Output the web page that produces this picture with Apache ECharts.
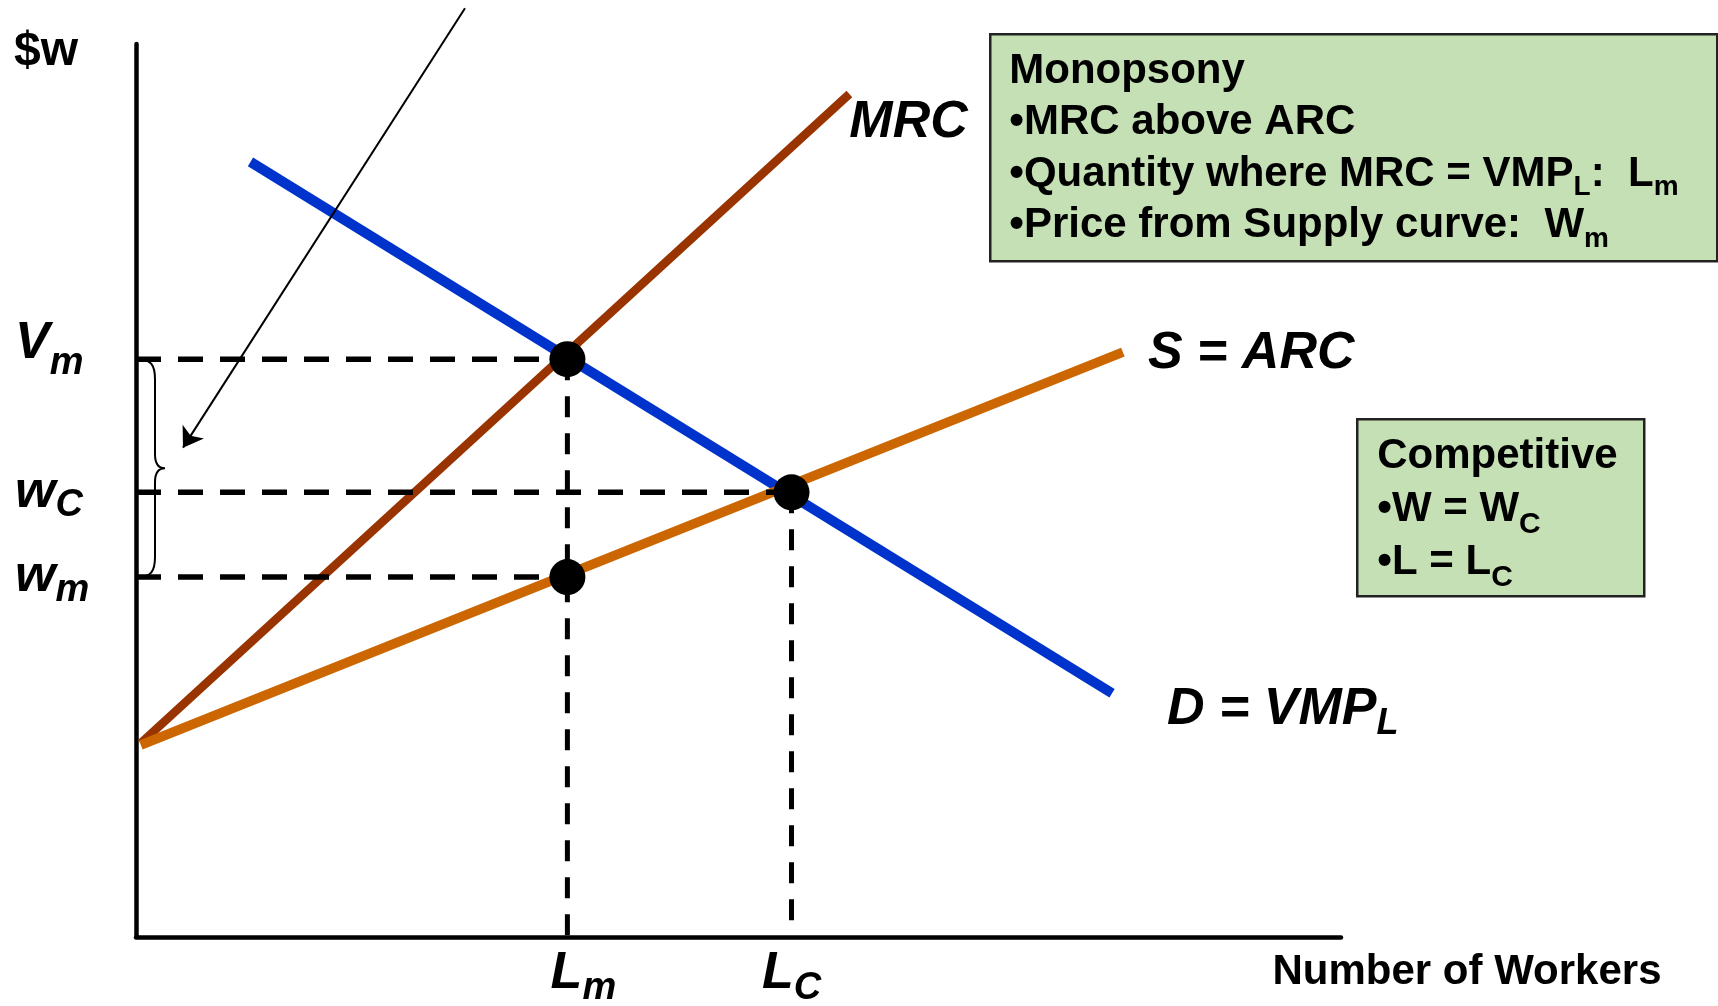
<!DOCTYPE html>
<html>
<head>
<meta charset="utf-8">
<title>Monopsony labor market</title>
<script src="https://cdn.jsdelivr.net/npm/echarts@6/dist/echarts.min.js"></script>
<style>
  html, body { margin: 0; padding: 0; background: #fff; }
  #chart { width: 1718px; height: 1006px; }
</style>
</head>
<body>
<div id="chart"></div>
<script>
// Curves of the labor market (x = number of workers, y = wage)
const demandPts = [[9.5, 86.8], [81.0, 27.3]];   // D = VMP_L
const mrcPts    = [[0.4, 21.7], [59.2, 94.4]];   // MRC
const supplyPts = [[0.4, 21.5], [81.9, 65.5]];   // S = ARC

// Quantities on the x axis: L_m, L_C
const qtyValues = [35.8, 54.4];
const qtyNames  = ['L', 'L'];
const qtySubs   = ['m', 'C'];

// Wages on the y axis: w_m, w_C, V_m
const wageValues = [40.3, 49.8, 64.7];
const wageNames  = ['w', 'w', 'V'];
const wageSubs   = ['m', 'C', 'm'];

// Pointer arrow towards the wage gap brace
const arrowPts = [[27.3, 104.0], [3.9, 54.8]];

const FONT = '"Liberation Sans", Arial, Helvetica, sans-serif';
const [Lm, Lc] = qtyValues;
const [wm, wC, Vm] = wageValues;

const BLUE = '#0033CC', BROWN = '#993300', ORANGE = '#CC6600', BOX = '#C5E0B4';

function italicBold(size, extra) {
  return Object.assign({ fontSize: size, fontWeight: 'bold', fontStyle: 'italic',
    fontFamily: FONT, color: '#000' }, extra || {});
}

// dashed guides from the equilibrium points to the axes
const guidesH = [
  [[0, Vm], [Lm, Vm]],
  [[0, wC], [Lc, wC]],
  [[0, wm], [Lm, wm]]
];
const guidesV = [
  [[Lm, Vm], [Lm, 0]],
  [[Lc, wC], [Lc, 0]]
];
const dots = [[Lm, Vm], [Lc, wC], [Lm, wm]];

function curve(name, pts, color, width, label) {
  return {
    type: 'line', name, data: pts, symbol: 'none', showSymbol: false, z: 2,
    lineStyle: { color, width, cap: 'butt', opacity: 1 },
    endLabel: label
  };
}

const series = [
  curve('VMP', demandPts, BLUE, 10, {
    show: true, formatter: '{a|D = VMP}{b|L}', offset: [47, 16],
    rich: { a: italicBold(52, { lineHeight: 60 }), b: italicBold(36, { height: 30, verticalAlign: 'bottom' }) }
  }),
  curve('MRC', mrcPts, BROWN, 8.5, Object.assign(italicBold(52), {
    show: true, formatter: 'MRC', offset: [-8, 29]
  })),
  curve('ARC', supplyPts, ORANGE, 9.5, Object.assign(italicBold(52), {
    show: true, formatter: 'S = ARC', offset: [17, 2]
  }))
];

guidesH.forEach(seg => series.push({
  type: 'line', data: seg, symbol: 'none', z: 3, silent: true,
  lineStyle: { color: '#000', width: 5.5, type: [25, 17], opacity: 1 }
}));
guidesV.forEach(seg => series.push({
  type: 'line', data: seg, symbol: 'none', z: 3, silent: true,
  lineStyle: { color: '#000', width: 5, type: [21, 16], opacity: 1 }
}));

series.push({
  type: 'scatter', data: dots, symbol: 'circle', symbolSize: 36, z: 5,
  itemStyle: { color: '#000', opacity: 1 }
});

// curly brace spanning the gap between V_m and w_m
series.push({
  type: 'custom', coordinateSystem: 'cartesian2d', clip: false, z: 4, silent: true,
  data: [[0, wm, Vm]],
  renderItem(params, api) {
    const top = api.coord([api.value(0), api.value(2)]);
    const bot = api.coord([api.value(0), api.value(1)]);
    const x = top[0], yT = top[1], yB = bot[1], yM = (yT + yB) / 2;
    const d = `M${x + 2} ${yT} C${x + 15} ${yT} ${x + 19} ${yT + 6} ${x + 19} ${yT + 20} ` +
      `L${x + 19} ${yM - 14} C${x + 19} ${yM - 4} ${x + 23} ${yM} ${x + 29} ${yM} ` +
      `C${x + 23} ${yM} ${x + 19} ${yM + 4} ${x + 19} ${yM + 14} ` +
      `L${x + 19} ${yB - 20} C${x + 19} ${yB - 6} ${x + 15} ${yB} ${x + 2} ${yB}`;
    return { type: 'path', shape: { pathData: d }, style: { fill: 'none', stroke: '#000', lineWidth: 2 } };
  }
});

// thin pointer arrow
series.push({
  type: 'lines', coordinateSystem: 'cartesian2d', clip: false, z: 4, silent: true,
  symbol: ['none', 'arrow'], symbolSize: 19,
  lineStyle: { color: '#000', width: 2, opacity: 1, curveness: 0 },
  data: [{ coords: arrowPts }]
});

const textBold = { fontWeight: 'bold', fontFamily: FONT, fill: '#000' };

const option = {
  animation: false,
  backgroundColor: '#fff',
  grid: { left: 136, right: 377, top: 44, bottom: 69, containLabel: false, outerBoundsMode: 'none' },
  xAxis: {
    type: 'value', min: 0, max: 100,
    axisLine: { show: true, onZero: false, lineStyle: { color: '#000', width: 4.5 } },
    axisTick: { show: false }, splitLine: { show: false },
    axisLabel: {
      customValues: qtyValues, margin: 9, color: '#000',
      formatter: v => {
        const i = qtyValues.indexOf(v);
        if (i < 0) return '';
        return `{${i === 0 ? 'Lp' : 'L'}|${qtyNames[i]}}{s|${qtySubs[i]}}`;
      },
      rich: {
        L: italicBold(52, { lineHeight: 56 }),
        Lp: italicBold(52, { lineHeight: 56, padding: [0, 0, 0, 32] }),
        s: italicBold(38, { height: 26, verticalAlign: 'bottom' })
      }
    },
    name: 'Number of Workers', nameLocation: 'end', nameGap: 126,
    nameTextStyle: { fontSize: 42, fontWeight: 'bold', fontFamily: FONT, color: '#000',
      align: 'center', verticalAlign: 'top', padding: [14, 0, 0, 0] }
  },
  yAxis: {
    type: 'value', min: 0, max: 100,
    axisLine: { show: true, onZero: false, lineStyle: { color: '#000', width: 4.5 } },
    axisTick: { show: false }, splitLine: { show: false },
    axisLabel: {
      customValues: wageValues, margin: 121, align: 'left', color: '#000',
      formatter: v => {
        const i = wageValues.indexOf(v);
        if (i < 0) return '';
        return wageNames[i] === 'V'
          ? `{V|${wageNames[i]}}{Vs|${wageSubs[i]}}`
          : `{w|${wageNames[i]}}{ws|${wageSubs[i]}}`;
      },
      rich: {
        w: italicBold(52, { lineHeight: 88 }),
        ws: italicBold(38, { height: 62, verticalAlign: 'bottom' }),
        V: italicBold(52, { lineHeight: 88, height: 56, verticalAlign: 'top' }),
        Vs: italicBold(38, { height: 80, verticalAlign: 'bottom' })
      }
    },
    name: '$w', nameLocation: 'end', nameGap: -8,
    nameTextStyle: { fontSize: 48, fontWeight: 'bold', fontFamily: FONT, color: '#000',
      align: 'right', verticalAlign: 'middle', padding: [0, 58, 0, 0] }
  },
  graphic: [
    {
      type: 'group', left: 989, top: 33, z: 10,
      children: [
        { type: 'rect', shape: { x: 0, y: 0, width: 727, height: 227 },
          style: { fill: BOX, stroke: '#222', lineWidth: 2.5 } },
        { type: 'text', x: 19, y: 11,
          style: Object.assign({}, textBold, {
            text: 'Monopsony\n•MRC above ARC\n•Quantity where MRC = VMP{s|L}:  L{s|m}\n•Price from Supply curve:  W{s|m}',
            fontSize: 42, lineHeight: 51.5, align: 'left', verticalAlign: 'top',
            rich: { s: Object.assign({}, textBold, { fontSize: 28, height: 24, verticalAlign: 'bottom' }) }
          }) }
      ]
    },
    {
      type: 'group', left: 1356, top: 418, z: 10,
      children: [
        { type: 'rect', shape: { x: 0, y: 0, width: 287, height: 177 },
          style: { fill: BOX, stroke: '#222', lineWidth: 2.5 } },
        { type: 'text', x: 20, y: 11,
          style: Object.assign({}, textBold, {
            text: 'Competitive\n•W = W{s|C}\n•L = L{s|C}',
            fontSize: 42, lineHeight: 53, align: 'left', verticalAlign: 'top',
            rich: { s: Object.assign({}, textBold, { fontSize: 30, height: 24, verticalAlign: 'bottom' }) }
          }) }
      ]
    }
  ],
  series
};

const chart = echarts.init(document.getElementById('chart'), null, { renderer: 'canvas' });
chart.setOption(option);
</script>
</body>
</html>
